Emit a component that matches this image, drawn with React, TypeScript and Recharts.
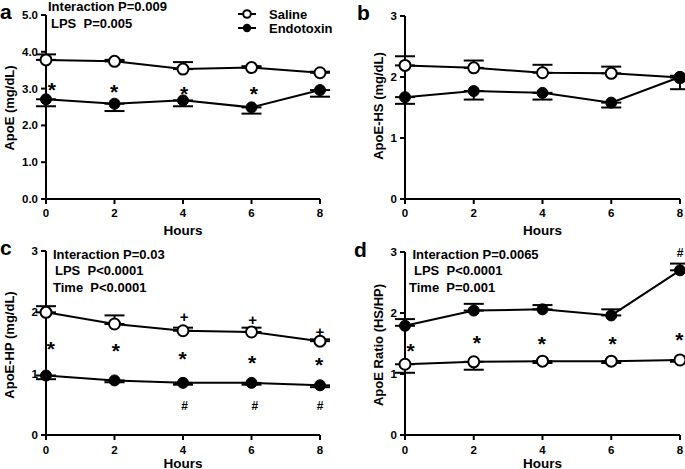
import React from 'react';
import { ComposedChart, Line, XAxis, YAxis, ErrorBar, Scatter } from 'recharts';

const FONT = '"Liberation Sans", Arial, Helvetica, sans-serif';

// shared
const hours = [0, 2, 4, 6, 8];
const hourTicks = [0, 2, 4, 6, 8];
const seriesNames = ['Saline', 'Endotoxin'];

// panel a: ApoE (mg/dL)
const apoETicks = [0, 1, 2, 3, 4, 5];
const apoESaline = [3.78, 3.74, 3.53, 3.57, 3.43];
const apoESalineSem = [0.15, 0.04, 0.19, 0.04, 0.03];
const apoEEndotoxin = [2.71, 2.59, 2.68, 2.49, 2.96];
const apoEEndotoxinSem = [0.19, 0.2, 0.16, 0.17, 0.18];
const apoEMarks = [
  { hour: 0.17, y: 3.11, mark: '*' },
  { hour: 1.99, y: 3.06, mark: '*' },
  { hour: 4.03, y: 3.0, mark: '*' },
  { hour: 6.07, y: 3.0, mark: '*' },
];

// panel b: ApoE-HS (mg/dL)
const smallTicks = [0, 1, 2, 3];
const hsSaline = [2.19, 2.15, 2.07, 2.06, 1.99];
const hsSalineSem = [0.15, 0.12, 0.13, 0.11, 0.03];
const hsEndotoxin = [1.67, 1.77, 1.74, 1.58, 2.0];
const hsEndotoxinSem = [0.11, 0.14, 0.11, 0.08, 0.2];
const hsMarks: { hour: number; y: number; mark: string }[] = [];

// panel c: ApoE-HP (mg/dL)
const hpSaline = [2.0, 1.81, 1.7, 1.68, 1.53];
const hpSalineSem = [0.1, 0.14, 0.05, 0.07, 0.03];
const hpEndotoxin = [0.97, 0.89, 0.85, 0.85, 0.81];
const hpEndotoxinSem = [0.06, 0.03, 0.03, 0.03, 0.03];
const hpMarks = [
  { hour: 0.14, y: 1.49, mark: '*' },
  { hour: 2.04, y: 1.45, mark: '*' },
  { hour: 3.99, y: 1.32, mark: '*' },
  { hour: 6.02, y: 1.26, mark: '*' },
  { hour: 7.97, y: 1.22, mark: '*' },
  { hour: 4.03, y: 1.92, mark: '+' },
  { hour: 6.03, y: 1.88, mark: '+' },
  { hour: 8.0, y: 1.69, mark: '+' },
  { hour: 4.05, y: 0.48, mark: '#' },
  { hour: 6.1, y: 0.48, mark: '#' },
  { hour: 8.0, y: 0.48, mark: '#' },
];

// panel d: ApoE Ratio (HS/HP)
const ratioSaline = [1.16, 1.2, 1.21, 1.21, 1.23];
const ratioSalineSem = [0.14, 0.13, 0.03, 0.03, 0.03];
const ratioEndotoxin = [1.79, 2.04, 2.06, 1.96, 2.7];
const ratioEndotoxinSem = [0.11, 0.11, 0.07, 0.1, 0.11];
const ratioMarks = [
  { hour: 0.16, y: 1.46, mark: '*' },
  { hour: 2.09, y: 1.6, mark: '*' },
  { hour: 3.98, y: 1.57, mark: '*' },
  { hour: 6.04, y: 1.57, mark: '*' },
  { hour: 7.98, y: 1.64, mark: '*' },
  { hour: 8.0, y: 2.99, mark: '#' },
];

const MarkShape = (props: any) => {
  const { cx, cy, payload } = props;
  const m = payload.mark;
  const size = m === '*' ? 21 : m === '+' ? 15 : 12;
  const off = m === '*' ? 0.58 : 0.35;
  return (
    <text x={cx} y={cy + off * size} textAnchor="middle" fontSize={size} fontWeight="bold" fontFamily={FONT} fill="#000">
      {m}
    </text>
  );
};

type PanelProps = {
  left: number; top: number; width: number; height: number;
  margin: { top: number; right: number; bottom: number; left: number };
  yMax: number; yTicks: number[]; decimals: number; xTickMargin: number;
  saline: number[]; salineSem: number[]; endo: number[]; endoSem: number[];
  salineAbove: boolean; marks: { hour: number; y: number; mark: string }[];
};

const axisStyle = { stroke: '#000', strokeWidth: 2 };
const tickStyle = { fontSize: 11.5, fontWeight: 'bold', fill: '#000', fontFamily: FONT };

function Panel(p: PanelProps) {
  const rows = hours.map((h, i) => ({
    hour: h,
    saline: p.saline[i],
    endo: p.endo[i],
    salineErr: p.salineAbove ? [0, p.salineSem[i]] : [p.salineSem[i], 0],
    endoErr: p.salineAbove ? [p.endoSem[i], 0] : [0, p.endoSem[i]],
  }));
  return (
    <div style={{ position: 'absolute', left: p.left, top: p.top }}>
      <ComposedChart width={p.width} height={p.height} data={rows} margin={p.margin} style={{ fontFamily: FONT }}>
        <XAxis type="number" dataKey="hour" domain={[0, 8]} ticks={hourTicks} interval={0}
          axisLine={axisStyle} tickLine={axisStyle} tickSize={5} tickMargin={p.xTickMargin} tick={tickStyle} height={30} />
        <YAxis type="number" domain={[0, p.yMax]} ticks={p.yTicks} interval={0} width={40}
          axisLine={axisStyle} tickLine={axisStyle} tickSize={5} tickMargin={3} tick={tickStyle}
          tickFormatter={(v: number) => v.toFixed(p.decimals)} />
        <Line dataKey="saline" stroke="none" dot={false} activeDot={false} legendType="none" isAnimationActive={false}>
          <ErrorBar dataKey="salineErr" direction="y" width={10} stroke="#000" strokeWidth={2} isAnimationActive={false} />
        </Line>
        <Line dataKey="endo" stroke="none" dot={false} activeDot={false} legendType="none" isAnimationActive={false}>
          <ErrorBar dataKey="endoErr" direction="y" width={10} stroke="#000" strokeWidth={2} isAnimationActive={false} />
        </Line>
        <Line name={seriesNames[0]} dataKey="saline" stroke="#000" strokeWidth={2} activeDot={false}
          dot={{ r: 5.5, fill: '#fff', stroke: '#000', strokeWidth: 2 }} isAnimationActive={false} />
        <Line name={seriesNames[1]} dataKey="endo" stroke="#000" strokeWidth={2} activeDot={false}
          dot={{ r: 5.5, fill: '#000', stroke: '#000', strokeWidth: 1 }} isAnimationActive={false} />
        <Scatter data={p.marks} dataKey="y" shape={MarkShape} legendType="none" isAnimationActive={false} />
      </ComposedChart>
    </div>
  );
}

const T = (props: any) => (
  <text fontFamily={FONT} fontWeight="bold" fill="#000" style={{ whiteSpace: 'pre' }} {...props} />
);

export default function App() {
  return (
    <div style={{ position: 'absolute', left: 0, top: 0, width: 685, height: 469, background: '#fff', overflow: 'hidden' }}>
      <Panel left={0} top={0} width={340} height={230} margin={{ top: 15, right: 20, bottom: 1, left: 6 }}
        yMax={5} yTicks={apoETicks} decimals={1} xTickMargin={5}
        saline={apoESaline} salineSem={apoESalineSem} endo={apoEEndotoxin} endoSem={apoEEndotoxinSem}
        salineAbove={true} marks={apoEMarks} />
      <Panel left={340} top={0} width={345} height={230} margin={{ top: 16, right: 5, bottom: 1, left: 25 }}
        yMax={3} yTicks={smallTicks} decimals={0} xTickMargin={5}
        saline={hsSaline} salineSem={hsSalineSem} endo={hsEndotoxin} endoSem={hsEndotoxinSem}
        salineAbove={true} marks={hsMarks} />
      <Panel left={0} top={230} width={340} height={239} margin={{ top: 21, right: 20, bottom: 4, left: 6 }}
        yMax={3} yTicks={smallTicks} decimals={0} xTickMargin={5.5}
        saline={hpSaline} salineSem={hpSalineSem} endo={hpEndotoxin} endoSem={hpEndotoxinSem}
        salineAbove={true} marks={hpMarks} />
      <Panel left={340} top={230} width={345} height={239} margin={{ top: 22, right: 5, bottom: 4, left: 25 }}
        yMax={3} yTicks={smallTicks} decimals={0} xTickMargin={5.5}
        saline={ratioSaline} salineSem={ratioSalineSem} endo={ratioEndotoxin} endoSem={ratioEndotoxinSem}
        salineAbove={false} marks={ratioMarks} />
      <svg width={685} height={469} style={{ position: 'absolute', left: 0, top: 0, pointerEvents: 'none' }}>
        <T x={0} y={19} fontSize={21}>a</T>
        <T x={357} y={20} fontSize={21}>b</T>
        <T x={0} y={255} fontSize={21}>c</T>
        <T x={354} y={257} fontSize={21}>d</T>

        <T x={48} y={10.5} fontSize={13}>Interaction P=0.009</T>
        <T x={51} y={27.5} fontSize={13}>{'LPS  P=0.005'}</T>
        <T x={53} y={258.5} fontSize={13}>Interaction P=0.03</T>
        <T x={55} y={274.5} fontSize={13}>{'LPS  P<0.0001'}</T>
        <T x={53} y={291.5} fontSize={13}>{'Time  P<0.0001'}</T>
        <T x={412.5} y={258.5} fontSize={13}>Interaction P=0.0065</T>
        <T x={414} y={274.5} fontSize={13}>{'LPS  P<0.0001'}</T>
        <T x={409} y={291.5} fontSize={13}>{'Time  P=0.001'}</T>

        <line x1={238} x2={256} y1={14} y2={14} stroke="#000" strokeWidth={2} />
        <circle cx={247} cy={14} r={3.8} fill="#fff" stroke="#000" strokeWidth={2} />
        <line x1={238} x2={256} y1={28} y2={28} stroke="#000" strokeWidth={2} />
        <circle cx={247} cy={28} r={4.2} fill="#000" />
        <T x={269} y={18.5} fontSize={13}>{seriesNames[0]}</T>
        <T x={269} y={32.5} fontSize={13}>{seriesNames[1]}</T>

        <T x={183} y={234.5} fontSize={13.5} textAnchor="middle">Hours</T>
        <T x={542.5} y={234.5} fontSize={13.5} textAnchor="middle">Hours</T>
        <T x={183} y={467.5} fontSize={13.5} textAnchor="middle">Hours</T>
        <T x={542.5} y={467.5} fontSize={13.5} textAnchor="middle">Hours</T>

        <T transform="translate(9,108) rotate(-90)" fontSize={13} textAnchor="middle" dominantBaseline="central">ApoE (mg/dL)</T>
        <T transform="translate(378,106) rotate(-90)" fontSize={13} textAnchor="middle" dominantBaseline="central">ApoE-HS (mg/dL)</T>
        <T transform="translate(9,345) rotate(-90)" fontSize={13} textAnchor="middle" dominantBaseline="central">ApoE-HP (mg/dL)</T>
        <T transform="translate(378,345) rotate(-90)" fontSize={13} textAnchor="middle" dominantBaseline="central">ApoE Ratio (HS/HP)</T>
      </svg>
    </div>
  );
}
